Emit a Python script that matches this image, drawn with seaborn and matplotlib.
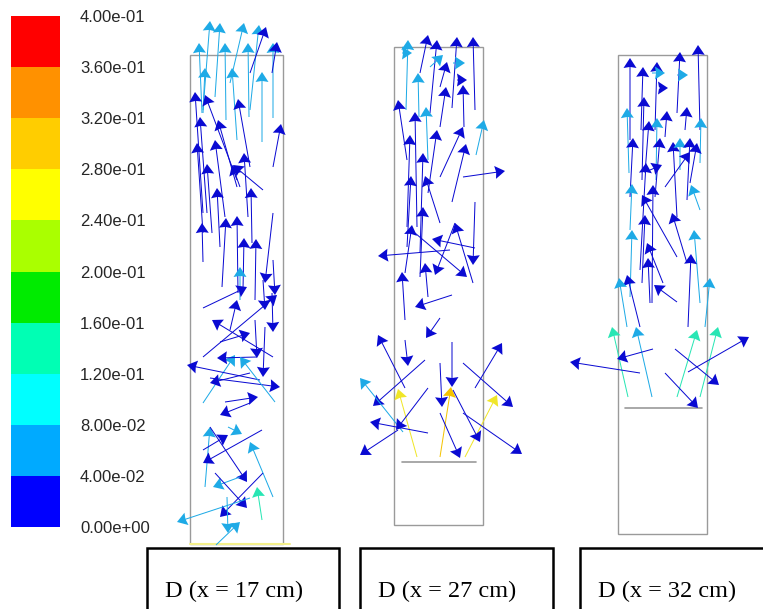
import numpy as np
import matplotlib
matplotlib.use("Agg")
import matplotlib.pyplot as plt
from matplotlib.colors import ListedColormap, BoundaryNorm
from matplotlib.patches import Rectangle
import seaborn as sns

# ---------------- data ----------------
levels = [0.00, 0.04, 0.08, 0.12, 0.16, 0.20, 0.24, 0.28, 0.32, 0.36, 0.40]
level_labels = ["0.00e+00", "4.00e-02", "8.00e-02", "1.20e-01", "1.60e-01",
                "2.00e-01", "2.40e-01", "2.80e-01", "3.20e-01", "3.60e-01", "4.00e-01"]
band_colors = ["#0000ff", "#00aaff", "#00ffff", "#00ffb4", "#00eb00",
               "#aaff00", "#ffff00", "#ffcd00", "#ff9100", "#ff0000"]
vector_colors = ["#0a0ad2", "#1eaae6", "#00e6f0", "#28e6b4", "#00d200",
                 "#aaf000", "#f0e628", "#f5c300", "#ff9100", "#ff0000"]

section_labels = ["D (x = 17 cm)", "D (x = 27 cm)", "D (x = 32 cm)"]

# tube geometry (cm, y measured downward from top of view)
tube_left = [19.0, 39.4, 61.8]
tube_right = [28.3, 48.3, 70.7]
tube_top = [5.5, 4.7, 5.5]
tube_bottom = [54.4, 52.5, 53.4]
inlet_y = [54.4, 46.2, 40.8]
inlet_x0 = [19.0, 40.2, 62.5]
inlet_x1 = [29.0, 47.6, 70.2]

# tube 1 vectors: tail (x0, y0), head (x1, y1), speed (m/s)
t1_x0 = [20.3, 21.5, 23.0, 25.0, 25.0, 20.2, 22.6, 24.9, 27.3, 27.2, 20.3, 23.7, 26.2,
         20.3, 23.7, 20.7, 23.7, 25.0, 27.3, 20.3, 22.5, 21.2, 24.0, 26.3, 24.8, 22.0,
         25.2, 20.3, 22.2, 23.8, 24.3, 25.5, 27.3, 27.3, 24.0, 20.3, 23.0, 26.3, 27.2,
         27.3, 20.3, 22.0, 20.3, 25.7, 25.5, 26.0, 21.0, 26.5, 25.0, 27.5, 22.5, 25.0,
         20.5, 20.3, 22.8, 27.3, 26.2, 21.0, 24.0, 21.5, 26.2, 26.3, 25.0, 22.7, 21.6]
t1_y0 = [11.0, 9.7, 8.3, 11.0, 7.3, 11.3, 12.0, 11.7, 11.8, 7.3, 11.3, 14.0, 14.2,
         21.3, 18.0, 21.3, 18.7, 16.7, 16.7, 23.3, 21.7, 23.3, 18.7, 19.0, 21.7, 24.7,
         24.3, 26.2, 28.7, 29.3, 29.0, 30.0, 21.3, 26.0, 30.0, 30.8, 33.0, 28.0, 29.3,
         35.7, 35.7, 34.2, 40.3, 35.7, 32.0, 38.0, 37.8, 32.7, 37.3, 40.2, 40.2, 40.3,
         48.7, 45.0, 42.7, 49.7, 43.0, 42.7, 47.7, 47.3, 52.0, 47.3, 49.8, 49.7, 54.5]
t1_x1 = [21.0, 22.0, 24.4, 25.9, 26.6, 19.9, 22.5, 24.8, 27.3, 27.7, 20.5, 23.2, 26.2,
         19.5, 20.5, 20.0, 21.8, 23.8, 28.1, 19.7, 21.5, 20.7, 23.2, 23.3, 24.4, 21.7,
         25.1, 20.2, 22.6, 23.7, 24.4, 25.6, 26.5, 27.5, 24.0, 24.7, 23.7, 26.5, 27.3,
         21.2, 27.7, 25.0, 23.5, 21.7, 25.7, 18.7, 28.0, 26.3, 21.0, 24.0, 25.8, 22.0,
         21.0, 22.8, 24.2, 25.0, 20.3, 24.7, 21.3, 24.7, 25.7, 22.0, 17.7, 22.8, 24.0]
t1_y1 = [2.1, 2.3, 2.3, 2.5, 2.7, 4.3, 4.3, 4.3, 4.3, 4.2, 6.8, 6.8, 7.2,
         9.2, 9.5, 11.7, 12.0, 9.9, 12.4, 14.3, 14.0, 16.4, 16.5, 16.5, 15.3, 18.8,
         18.8, 22.3, 21.8, 21.6, 23.8, 23.9, 28.3, 29.5, 26.7, 28.7, 30.0, 31.0, 33.2,
         32.0, 29.5, 33.3, 35.5, 35.8, 35.8, 36.5, 38.7, 37.7, 38.3, 35.7, 39.7, 41.5,
         42.7, 43.5, 43.4, 44.2, 46.3, 48.2, 48.7, 50.8, 48.7, 51.7, 52.2, 53.3, 52.2]
t1_s = [0.06, 0.06, 0.06, 0.06, 0.02, 0.06, 0.06, 0.06, 0.06, 0.02, 0.06, 0.06, 0.06,
        0.02, 0.02, 0.02, 0.02, 0.02, 0.02, 0.02, 0.02, 0.02, 0.02, 0.02, 0.02, 0.02,
        0.02, 0.02, 0.02, 0.02, 0.02, 0.02, 0.02, 0.02, 0.06, 0.02, 0.02, 0.02, 0.02,
        0.02, 0.02, 0.02, 0.06, 0.02, 0.02, 0.02, 0.02, 0.02, 0.02, 0.06, 0.02, 0.02,
        0.06, 0.02, 0.06, 0.06, 0.02, 0.02, 0.06, 0.02, 0.14, 0.02, 0.06, 0.06, 0.06]

# tube 2 vectors
t2_x0 = [40.6, 42.0, 43.0, 45.2, 47.5, 40.2, 43.0, 45.3, 41.9, 44.0, 46.4, 45.7, 44.0,
         40.7, 41.7, 42.8, 42.8, 40.7, 44.0, 47.6, 45.2, 42.0, 40.7, 44.0, 46.3, 42.0,
         40.5, 45.5, 47.3, 47.5, 45.0, 47.5, 40.5, 42.8, 41.5, 45.2, 40.5, 44.0, 40.5,
         42.5, 47.5, 46.3, 40.3, 41.7, 44.0, 46.5, 44.0, 45.2, 42.8, 39.8, 45.3, 46.3,
         44.0, 42.8]
t2_y0 = [11.0, 7.3, 11.3, 10.8, 11.0, 5.3, 6.7, 6.3, 11.7, 8.7, 12.7, 8.0, 12.7,
         16.0, 22.7, 16.0, 19.3, 22.7, 17.7, 15.5, 20.2, 25.3, 24.7, 22.3, 17.7, 27.7,
         27.3, 22.3, 28.3, 24.8, 25.0, 20.2, 32.0, 29.7, 23.3, 29.5, 38.8, 31.8, 34.0,
         36.0, 38.8, 36.3, 43.2, 45.7, 45.7, 45.7, 36.3, 34.2, 43.3, 43.0, 39.0, 41.3,
         41.3, 38.8]
t2_x1 = [40.8, 42.8, 43.7, 45.7, 47.3, 41.2, 44.3, 46.5, 41.8, 44.7, 46.3, 46.7, 44.6,
         39.8, 41.5, 42.6, 43.7, 41.0, 46.3, 48.4, 46.6, 42.3, 41.1, 42.5, 50.5, 42.3,
         41.2, 43.5, 45.5, 43.2, 37.8, 47.3, 40.2, 42.5, 46.7, 41.5, 37.8, 42.6, 40.8,
         37.3, 50.2, 51.3, 36.0, 39.8, 45.1, 49.7, 44.2, 45.2, 37.0, 36.0, 48.0, 52.2,
         46.0, 39.6]
t2_y1 = [4.0, 3.5, 4.0, 3.7, 3.7, 5.3, 5.5, 6.3, 7.3, 6.2, 8.5, 8.0, 8.7,
         10.0, 11.2, 10.7, 13.0, 13.5, 12.7, 12.0, 14.4, 15.3, 17.6, 17.6, 17.1, 20.7,
         22.5, 27.5, 22.3, 23.9, 25.6, 26.5, 27.2, 26.3, 27.7, 30.7, 33.5, 33.8, 36.6,
         40.6, 34.3, 40.7, 37.8, 38.9, 38.7, 39.5, 40.7, 38.7, 42.2, 45.5, 44.2, 45.4,
         45.8, 43.0]
t2_s = [0.06, 0.02, 0.02, 0.02, 0.02, 0.06, 0.06, 0.06, 0.06, 0.02, 0.02, 0.02, 0.02,
        0.02, 0.02, 0.06, 0.02, 0.02, 0.02, 0.06, 0.02, 0.02, 0.02, 0.02, 0.02, 0.02,
        0.02, 0.02, 0.02, 0.02, 0.02, 0.02, 0.02, 0.02, 0.02, 0.02, 0.02, 0.02, 0.02,
        0.02, 0.02, 0.02, 0.06, 0.26, 0.30, 0.26, 0.02, 0.02, 0.02, 0.02, 0.02, 0.02,
        0.02, 0.02]

# tube 3 vectors
t3_x0 = [63.0, 64.1, 65.5, 67.7, 70.0, 65.2, 66.0, 67.7, 62.9, 64.2, 66.5, 68.5, 65.6,
         64.5, 70.0, 63.0, 65.5, 67.7, 68.0, 68.7, 69.0, 66.5, 64.0, 65.0, 65.2, 63.0,
         70.0, 67.7, 68.7, 64.2, 63.0, 70.0, 66.3, 65.0, 68.8, 64.0, 62.7, 70.5, 67.7,
         62.8, 65.2, 67.7, 70.0, 64.0, 65.3, 68.8, 67.5, 66.5]
t3_y0 = [14.0, 13.0, 13.0, 11.3, 13.0, 7.3, 8.8, 7.5, 17.3, 18.0, 13.7, 13.0, 18.0,
         17.3, 16.3, 19.7, 19.7, 21.7, 17.0, 20.0, 18.3, 18.7, 27.0, 17.0, 30.3, 23.0,
         21.0, 25.7, 26.3, 28.3, 29.7, 30.3, 28.3, 30.3, 32.7, 32.7, 32.7, 32.7, 30.2,
         39.7, 39.7, 39.7, 39.7, 37.3, 34.9, 37.2, 34.9, 37.3]
t3_x1 = [63.0, 64.3, 65.7, 68.0, 69.8, 66.5, 66.8, 68.8, 62.7, 64.4, 66.7, 68.7, 65.7,
         64.9, 70.1, 63.3, 66.0, 67.3, 68.0, 69.0, 69.7, 69.0, 64.6, 66.2, 65.3, 63.2,
         69.1, 64.2, 67.2, 64.5, 63.2, 69.4, 64.7, 64.8, 69.1, 62.7, 61.9, 71.0, 65.4,
         61.2, 63.6, 69.7, 71.8, 57.0, 61.7, 74.9, 71.9, 69.8]
t3_y1 = [5.8, 6.7, 6.2, 5.2, 4.5, 7.3, 8.8, 7.5, 10.8, 9.7, 11.1, 10.7, 11.8,
         12.1, 11.8, 13.8, 13.8, 14.2, 13.8, 13.8, 14.3, 15.2, 16.3, 16.5, 18.5, 18.4,
         18.5, 19.5, 21.3, 21.5, 23.0, 23.0, 24.3, 25.8, 25.4, 27.5, 27.8, 27.8, 28.5,
         32.7, 32.7, 33.0, 32.7, 36.2, 35.9, 33.7, 38.5, 40.8]
t3_s = [0.02, 0.02, 0.02, 0.02, 0.02, 0.06, 0.02, 0.06, 0.06, 0.02, 0.02, 0.02, 0.06,
        0.02, 0.06, 0.02, 0.02, 0.02, 0.06, 0.02, 0.02, 0.02, 0.02, 0.02, 0.02, 0.06,
        0.06, 0.02, 0.02, 0.02, 0.06, 0.06, 0.02, 0.02, 0.02, 0.02, 0.06, 0.06, 0.02,
        0.14, 0.06, 0.14, 0.14, 0.02, 0.02, 0.02, 0.02, 0.02]

# label boxes
box_left = [14.7, 36.0, 58.0]
box_right = [33.9, 55.3, 77.5]
box_top = 54.8

# ---------------- drawing ----------------
sns.set_theme(style="white")
plt.rcParams['font.family'] = ['Liberation Sans', 'DejaVu Sans']

W, H = 763, 609
fig = plt.figure(figsize=(W / 100, H / 100), dpi=100)
fig.patch.set_facecolor("white")

cmap = ListedColormap(band_colors)
vcmap = ListedColormap(vector_colors)
norm = BoundaryNorm(levels, cmap.N)

# main domain axes (cm)
ax = fig.add_axes([0, 0, 1, 1])
ax.set_xlim(0, W / 10)
ax.set_ylim(H / 10, 0)
ax.axis("off")

# tubes
for i in range(3):
    ax.add_patch(Rectangle((tube_left[i], tube_top[i]),
                           tube_right[i] - tube_left[i],
                           tube_bottom[i] - tube_top[i],
                           fill=False, edgecolor="#9a9a9a", lw=1.0, zorder=2))
ax.plot([inlet_x0[0], inlet_x1[0]], [inlet_y[0], inlet_y[0]], color="#f4f08a", lw=1.5, zorder=2)
for i in (1, 2):
    ax.plot([inlet_x0[i], inlet_x1[i]], [inlet_y[i], inlet_y[i]], color="#9a9a9a", lw=1.2, zorder=2)

# velocity vectors
for x0, y0, x1, y1, s in ((t1_x0, t1_y0, t1_x1, t1_y1, t1_s),
                          (t2_x0, t2_y0, t2_x1, t2_y1, t2_s),
                          (t3_x0, t3_y0, t3_x1, t3_y1, t3_s)):
    x0 = np.array(x0); y0 = np.array(y0); x1 = np.array(x1); y1 = np.array(y1)
    ax.quiver(x0, y0, x1 - x0, y1 - y0, np.array(s), cmap=vcmap, norm=norm,
              angles="xy", scale_units="xy", scale=1, units="xy",
              width=0.1, headwidth=13, headlength=10, headaxislength=9,
              minshaft=0.5, pivot="tail", zorder=3)

# label boxes
for i in range(3):
    ax.plot([box_left[i], box_left[i], box_right[i], box_right[i]],
            [H / 10 + 2, box_top, box_top, H / 10 + 2],
            color="black", lw=1.8, solid_joinstyle="miter", zorder=4, clip_on=False)
    ax.text(box_left[i] + 1.8, 59.7, section_labels[i], family=["Liberation Serif", "DejaVu Serif"],
            fontsize=17.5, color="black", ha="left", va="baseline", zorder=5)

# colour scale drawn as a seaborn heatmap
cax = fig.add_axes([11 / W, (H - 527) / H, 49 / W, 511 / H])
band_mid = (np.array(levels[1:]) + np.array(levels[:-1])) / 2
sns.heatmap(band_mid[::-1].reshape(-1, 1), ax=cax, cmap=cmap, vmin=0, vmax=0.4,
            cbar=False, xticklabels=False, yticklabels=False, linewidths=0)
cax.set_yticks(np.arange(len(levels)))
cax.set_yticklabels(level_labels[::-1], fontsize=12, family=["Liberation Sans", "DejaVu Sans"])
cax.yaxis.tick_right()
cax.tick_params(axis="y", length=0, pad=14.4, labelrotation=0)
for lab in cax.get_yticklabels():
    lab.set_horizontalalignment("left")
for sp in cax.spines.values():
    sp.set_visible(False)

fig.savefig("out.png", dpi=100, facecolor="white")
